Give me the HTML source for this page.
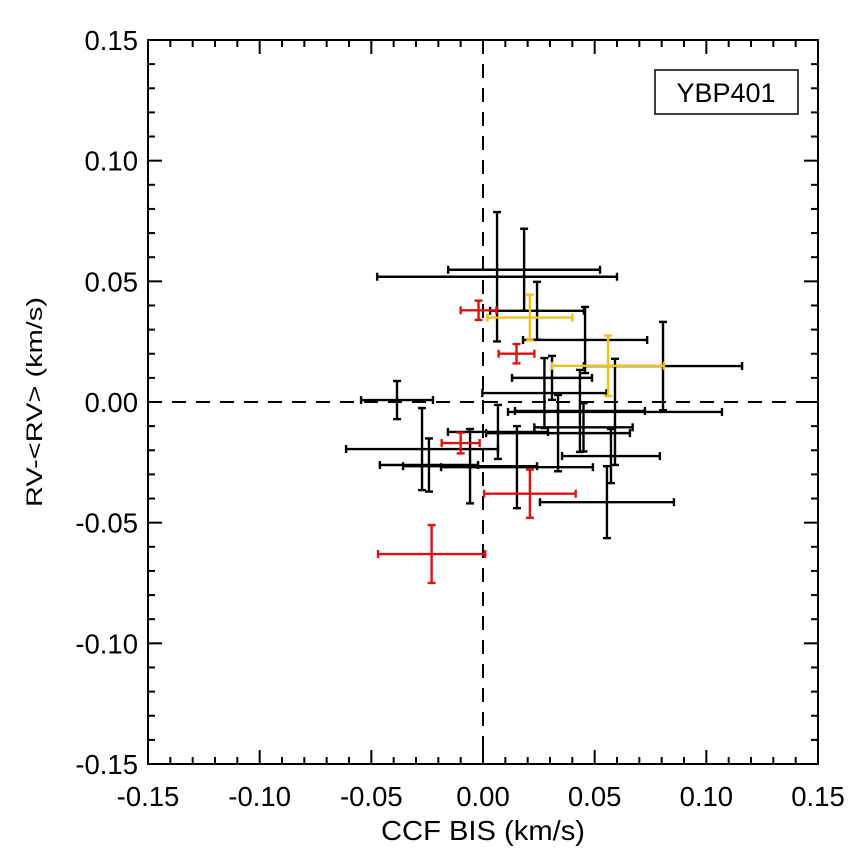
<!DOCTYPE html>
<html><head><meta charset="utf-8"><style>
html,body{margin:0;padding:0;background:#fff;}
svg{display:block;font-family:"Liberation Sans",Arial,sans-serif;}
</style></head><body>
<svg id="chart" width="857" height="856" viewBox="0 0 857 856" xmlns="http://www.w3.org/2000/svg"></svg>
<script>
const tickValues = [-0.15, -0.10, -0.05, 0.00, 0.05, 0.10, 0.15];
const tickLabels = ["-0.15", "-0.10", "-0.05", "0.00", "0.05", "0.10", "0.15"];
const blackX  = [0.0063,0.0184,0.0242,0.0457,0.0275,0.0309,0.0336,0.0806,0.0434,0.0573,0.0591,0.0555,0.0067,-0.0058,-0.0242,-0.0273,-0.0385,0.0152,0.045];
const blackY  = [0.0519,0.0548,0.0378,0.0257,0.0037,0.0100,-0.0129,0.0149,-0.0037,-0.0224,-0.0041,-0.0415,-0.0124,-0.0266,-0.0261,-0.0195,0.0008,-0.0270,-0.0105];
const blackXe = [0.0537,0.0340,0.0210,0.0278,0.0278,0.0179,0.0322,0.0354,0.0291,0.0219,0.0479,0.0300,0.0224,0.0300,0.0220,0.0340,0.0161,0.0340,0.022];
const blackYe = [0.0268,0.0170,0.0120,0.0137,0.0145,0.0091,0.0158,0.0183,0.0170,0.0112,0.0220,0.0149,0.0112,0.0154,0.0110,0.0170,0.0079,0.0170,0.010];
const redX  = [-0.002,0.015,-0.010,0.021,-0.023];
const redY  = [0.038,0.020,-0.017,-0.038,-0.063];
const redXe = [0.008,0.008,0.0085,0.0205,0.024];
const redYe = [0.004,0.004,0.0043,0.010,0.012];
const yelX  = [0.021,0.056];
const yelY  = [0.035,0.015];
const yelXe = [0.019,0.025];
const yelYe = [0.0095,0.0125];

const L=148,R=818,T=40,B=764;
const sx=v=>L+(v+0.15)/0.3*(R-L);
const sy=v=>B-(v+0.15)/0.3*(B-T);
const svg=document.getElementById('chart');
const NS='http://www.w3.org/2000/svg';
function mk(tag,attrs,parent){const e=document.createElementNS(NS,tag);for(const k in attrs)e.setAttribute(k,attrs[k]);(parent||svg).appendChild(e);return e;}

let zl=mk('line',{x1:sx(0),x2:sx(0),y1:T,y2:B,stroke:'#000','stroke-width':2,'stroke-dasharray':'14,10'});


zl=mk('line',{x1:L,x2:R,y1:sy(0),y2:sy(0),stroke:'#000','stroke-width':2,'stroke-dasharray':'14,10'});



function drawSeries(xs,ys,xe,ye,color,name){
  const g=mk('g',{stroke:color,'stroke-width':2.4,fill:'none'});
  
  
  for(let i=0;i<xs.length;i++){
    const pg=mk('g',{},g);
    
    
    const x0=sx(xs[i]-xe[i]),x1=sx(xs[i]+xe[i]),y=sy(ys[i]);
    const y0=sy(ys[i]+ye[i]),y1=sy(ys[i]-ye[i]),x=sx(xs[i]);
    mk('line',{x1:x0,x2:x1,y1:y,y2:y},pg);
    mk('line',{x1:x0,x2:x0,y1:y-4,y2:y+4},pg);
    mk('line',{x1:x1,x2:x1,y1:y-4,y2:y+4},pg);
    mk('line',{x1:x,x2:x,y1:y0,y2:y1},pg);
    mk('line',{x1:x-4,x2:x+4,y1:y0,y2:y0},pg);
    mk('line',{x1:x-4,x2:x+4,y1:y1,y2:y1},pg);
  }
}
drawSeries(blackX,blackY,blackXe,blackYe,'#000','black');
drawSeries(yelX,yelY,yelXe,yelYe,'#f2c018','yellow');
drawSeries(redX,redY,redXe,redYe,'#e01010','red');

const fr=mk('rect',{x:L,y:T,width:R-L,height:B-T,fill:'none',stroke:'#000','stroke-width':2});



const tg=mk('g',{stroke:'#000','stroke-width':2});


for(let k=-15;k<=15;k++){
  const v=k/100,major=(k%5===0),len=major?14:7;
  const x=sx(v),y=sy(v);
  mk('line',{x1:x,x2:x,y1:B,y2:B-len},tg);
  mk('line',{x1:x,x2:x,y1:T,y2:T+len},tg);
  mk('line',{x1:L,x2:L+len,y1:y,y2:y},tg);
  mk('line',{x1:R,x2:R-len,y1:y,y2:y},tg);
}
for(let i=0;i<tickValues.length;i++){
  const t=mk('text',{x:sx(tickValues[i]),y:806,'text-anchor':'middle','font-size':27.5});
  t.textContent=tickLabels[i];
  
  
  const u=mk('text',{x:138,y:sy(tickValues[i])+10,'text-anchor':'end','font-size':27.5});
  u.textContent=tickLabels[i];
  
  
}
let xt=mk('text',{x:483,y:840,'text-anchor':'middle','font-size':28,textLength:204,lengthAdjust:'spacingAndGlyphs'});
xt.textContent='CCF BIS (km/s)';


let yt=mk('text',{x:402,y:42,'text-anchor':'middle','font-size':22,textLength:210,lengthAdjust:'spacingAndGlyphs',transform:'rotate(-90 402 42) translate(0 0)'});
yt.setAttribute('x',-402+402);
yt.setAttribute('transform','translate(42 402) rotate(-90)');
yt.setAttribute('x',0);
yt.setAttribute('y',0);
yt.textContent='RV-<RV> (km/s)';



const lg=mk('g',{});


mk('rect',{x:655,y:70,width:143,height:44,fill:'#fff',stroke:'#000','stroke-width':1.5},lg);
const lt=mk('text',{x:726,y:102,'text-anchor':'middle','font-size':27},lg);
lt.textContent='YBP401';


</script>
</body></html>
